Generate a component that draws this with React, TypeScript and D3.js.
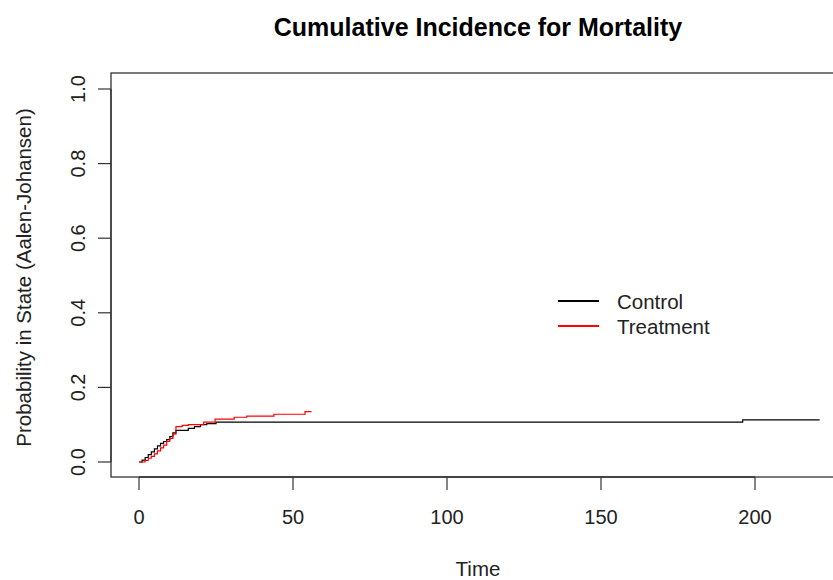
import * as d3 from "d3";

const W = 833;
const H = 580;

// step data (time, cumulative incidence)
const controlTime = [0, 1, 2, 3, 4, 5, 6, 7, 8, 9, 10, 11, 12, 16, 18, 20, 22, 25, 196, 221];
const controlProb = [0, 0.005, 0.012, 0.02, 0.027, 0.035, 0.043, 0.05, 0.055, 0.06, 0.068, 0.078, 0.085, 0.09, 0.095, 0.1, 0.103, 0.107, 0.113, 0.113];

const treatTime = [0, 2, 3, 4, 5, 6, 7, 8, 9, 10, 11, 12, 14, 16, 21, 24.7, 30.9, 35, 43.8, 53.9, 56];
const treatProb = [0, 0.004, 0.01, 0.015, 0.022, 0.03, 0.038, 0.045, 0.055, 0.063, 0.075, 0.095, 0.098, 0.1, 0.107, 0.115, 0.12, 0.123, 0.128, 0.135, 0.135];

const xTicks = [0, 50, 100, 150, 200];
const yTicks = [0, 0.2, 0.4, 0.6, 0.8, 1.0];

const seriesNames = ["Control", "Treatment"];
const seriesColors = ["#000000", "#ff0000"];

const BOX = { left: 111, top: 73, right: 845, bottom: 477 };
const FONT = "'Liberation Sans', Arial, Helvetica, sans-serif";

type Pt = { t: number; p: number };

export default function App() {
  const x = d3.scaleLinear().domain([0, 200]).range([139, 755]);
  const y = d3.scaleLinear().domain([0, 1]).range([462, 89]);

  const line = d3
    .line<Pt>()
    .x((d) => x(d.t))
    .y((d) => y(d.p))
    .curve(d3.curveStepAfter);

  const control: Pt[] = controlTime.map((t, i) => ({ t, p: controlProb[i] }));
  const treat: Pt[] = treatTime.map((t, i) => ({ t, p: treatProb[i] }));

  const tickLen = 13;

  return (
    <svg
      width={W}
      height={H}
      style={{ position: "absolute", left: 0, top: 0, background: "#fff" }}
      fontFamily={FONT}
    >
      <text x={478} y={36} textAnchor="middle" fontSize={25} fontWeight="bold" fill="#000">
        Cumulative Incidence for Mortality
      </text>

      {/* plot box */}
      <rect
        x={BOX.left}
        y={BOX.top}
        width={BOX.right - BOX.left}
        height={BOX.bottom - BOX.top}
        fill="none"
        stroke="#333"
        strokeWidth={1.3}
      />

      {/* x axis */}
      <line x1={x(0)} x2={x(200)} y1={BOX.bottom} y2={BOX.bottom} stroke="#333" strokeWidth={1.3} />
      {xTicks.map((t) => (
        <g key={t}>
          <line x1={x(t)} x2={x(t)} y1={BOX.bottom} y2={BOX.bottom + tickLen} stroke="#333" strokeWidth={1.2} />
          <text x={x(t)} y={524} textAnchor="middle" fontSize={20} fill="#222">
            {t}
          </text>
        </g>
      ))}
      <text x={478} y={576} textAnchor="middle" fontSize={20.5} fill="#222">
        Time
      </text>

      {/* y axis */}
      <line x1={BOX.left} x2={BOX.left} y1={y(0)} y2={y(1)} stroke="#333" strokeWidth={1.3} />
      {yTicks.map((t) => (
        <g key={t}>
          <line x1={BOX.left} x2={BOX.left - tickLen} y1={y(t)} y2={y(t)} stroke="#333" strokeWidth={1.2} />
          <text
            transform={`translate(85,${y(t)}) rotate(-90)`}
            textAnchor="middle"
            fontSize={20}
            fill="#222"
          >
            {t.toFixed(1)}
          </text>
        </g>
      ))}
      <text
        transform={`translate(31,${(y(0) + y(1)) / 2 + 2}) rotate(-90)`}
        textAnchor="middle"
        fontSize={20.5}
        fill="#222"
      >
        Probability in State (Aalen-Johansen)
      </text>

      {/* curves */}
      <path d={line(control) ?? ""} fill="none" stroke={seriesColors[0]} strokeWidth={1.2} />
      <path d={line(treat) ?? ""} fill="none" stroke={seriesColors[1]} strokeWidth={1.2} />

      {/* legend */}
      {seriesNames.map((name, i) => (
        <g key={name} transform={`translate(0,${301 + i * 25})`}>
          <line x1={558} x2={599} y1={0} y2={0} stroke={seriesColors[i]} strokeWidth={2} />
          <text x={617} y={7.5} fontSize={20.5} fill="#222">
            {name}
          </text>
        </g>
      ))}
    </svg>
  );
}
